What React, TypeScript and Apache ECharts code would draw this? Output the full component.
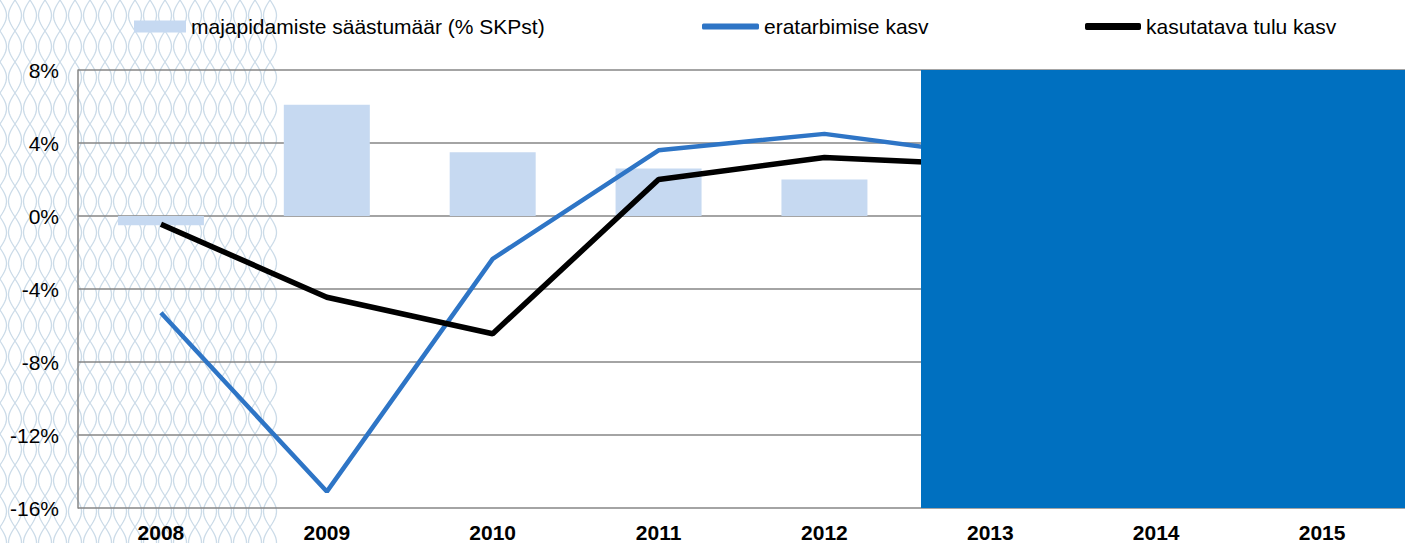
import React, { useEffect, useRef } from "react";
import * as echarts from "echarts";

const categories = ["2008", "2009", "2010", "2011", "2012", "2013", "2014", "2015"];
const savingsRate = [-0.5, 6.1, 3.5, 2.6, 2.0, null, null, null];
const consumptionGrowth = [-5.3, -15.1, -2.35, 3.6, 4.5, 3.3, null, null];
const incomeGrowth = [-0.45, -4.45, -6.45, 2.0, 3.2, 2.8, null, null];

const NAME_BAR = "majapidamiste säästumäär (% SKPst)";
const NAME_BLUE = "eratarbimise kasv";
const NAME_BLACK = "kasutatava tulu kasv";

function buildWaves(): string {
  const parts: string[] = [];
  const A = 6.5;
  const lambda = 62;
  for (let x0 = 0; x0 <= 282; x0 += 15) {
    for (const phase of [0, Math.PI]) {
      let d = "";
      for (let y = -4; y <= 548; y += 2) {
        const x = x0 + A * Math.sin((2 * Math.PI * y) / lambda + phase);
        d += (y === -4 ? "M" : "L") + x.toFixed(2) + " " + y;
      }
      parts.push(d);
    }
  }
  return parts.join(" ");
}

let registered = false;

export default function App() {
  const ref = useRef<HTMLDivElement>(null);
  useEffect(() => {
    if (!ref.current) return;
    if (!registered) {
      echarts.graphic.registerShape("waves", echarts.graphic.extendPath(buildWaves(), {}) as any);
      registered = true;
    }
    const chart = echarts.init(ref.current, null, { renderer: "svg" });
    const font = "Arial, 'Liberation Sans', sans-serif";
    const legendBase = {
      top: 11,
      textStyle: { fontSize: 21, color: "#000", fontFamily: font },
      selectedMode: false,
    };
    chart.setOption({
      animation: false,
      backgroundColor: "#fff",
      textStyle: { fontFamily: font },
      legend: [
        { ...legendBase, left: 129, data: [{ name: NAME_BAR, icon: "rect" }], itemWidth: 52, itemHeight: 12 },
        { ...legendBase, left: 697, data: [{ name: NAME_BLUE, icon: "roundRect" }], itemWidth: 57, itemHeight: 6 },
        { ...legendBase, left: 1080, data: [{ name: NAME_BLACK, icon: "roundRect" }], itemWidth: 56, itemHeight: 7 },
      ],
      grid: { left: 78, right: 0, top: 70, bottom: 35, containLabel: false },
      xAxis: {
        type: "category",
        data: categories,
        axisLine: { show: false },
        axisTick: { show: false },
        axisLabel: { fontSize: 21, fontWeight: "bold", color: "#000", margin: 14, fontFamily: font },
      },
      yAxis: {
        type: "value",
        min: -16,
        max: 8,
        interval: 4,
        axisLine: { show: true, lineStyle: { color: "#868686", width: 1.5 } },
        axisTick: { show: false },
        axisLabel: { fontSize: 21, color: "#000", margin: 19, formatter: "{value}%", fontFamily: font },
        splitLine: { show: true, lineStyle: { color: "#868686", width: 1.5 } },
      },
      graphic: [
        {
          type: "waves",
          x: 0,
          y: 0,
          silent: true,
          z: -10,
          style: { fill: "none", stroke: "#cbdbe8", lineWidth: 1.3 },
        },
        {
          type: "rect",
          shape: { x: 921, y: 70, width: 484, height: 438 },
          style: { fill: "#0070c0" },
          z: 100,
        },
      ],
      series: [
        {
          name: NAME_BAR,
          type: "bar",
          data: savingsRate,
          barWidth: 86,
          itemStyle: { color: "#c6d9f1" },
          z: 2,
        },
        {
          name: NAME_BLUE,
          type: "line",
          data: consumptionGrowth,
          symbol: "none",
          lineStyle: { color: "#2e75c6", width: 4.5 },
          itemStyle: { color: "#2e75c6" },
          z: 3,
        },
        {
          name: NAME_BLACK,
          type: "line",
          data: incomeGrowth,
          symbol: "none",
          lineStyle: { color: "#000", width: 5.5 },
          itemStyle: { color: "#000" },
          z: 4,
        },
      ],
    });
    return () => chart.dispose();
  }, []);
  return <div ref={ref} style={{ width: 1405, height: 543, position: "absolute", left: 0, top: 0 }} />;
}
